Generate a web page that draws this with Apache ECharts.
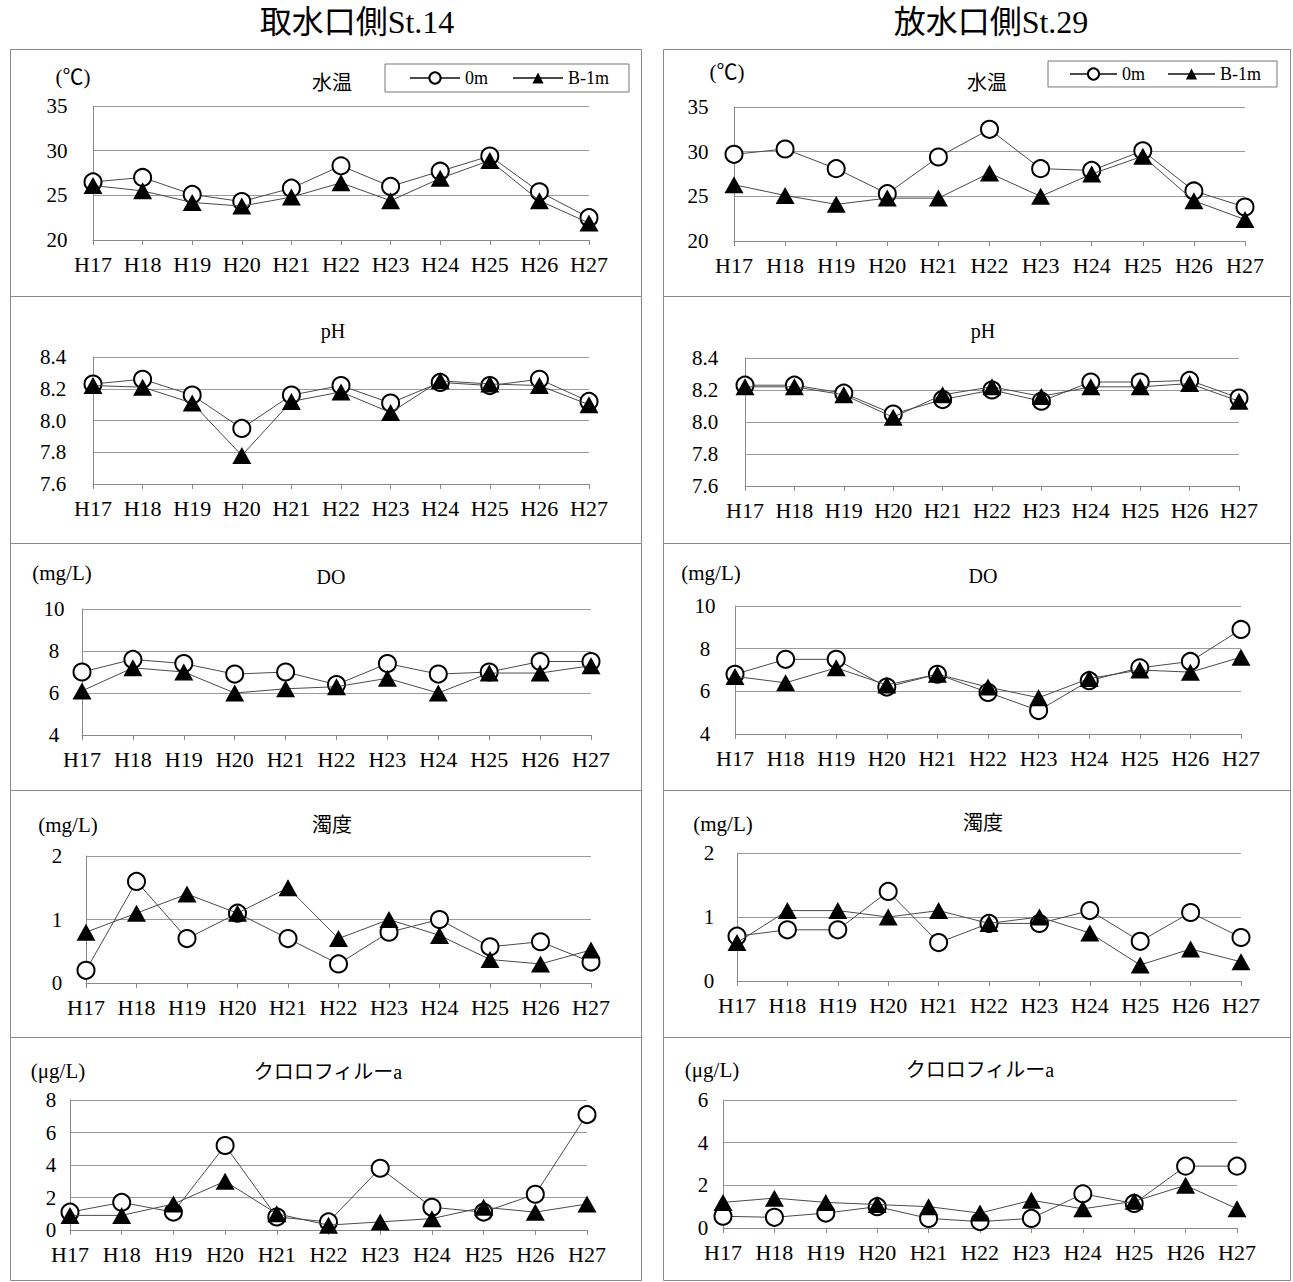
<!DOCTYPE html>
<html lang="ja">
<head>
<meta charset="utf-8">
<title>取水口側St.14・放水口側St.29 水質の経年変化</title>
<script src="https://cdn.jsdelivr.net/npm/echarts@6/dist/echarts.min.js"></script>
<style>
  html, body { margin: 0; padding: 0; background: #fff; }
  #chart { width: 1293px; height: 1282px; }
</style>
</head>
<body>
<div id="chart"></div>
<script>
// ---- data ----
const years = ['H17', 'H18', 'H19', 'H20', 'H21', 'H22', 'H23', 'H24', 'H25', 'H26', 'H27'];
const seriesNames = ['0m', 'B-1m'];
const stationTitles = ['取水口側St.14', '放水口側St.29'];
const itemTitles = ['水温', 'pH', 'DO', '濁度', 'クロロフィルーa'];
const itemUnits = ['(℃)', '', '(mg/L)', '(mg/L)', '(μg/L)'];

// 水温 (℃)
const tempSt14Surface = [26.5, 27.0, 25.1, 24.3, 25.8, 28.3, 26.0, 27.7, 29.4, 25.4, 22.5];
const tempSt14Bottom  = [26.1, 25.5, 24.2, 23.8, 24.8, 26.4, 24.4, 26.9, 28.9, 24.4, 21.9];
const tempSt29Surface = [29.7, 30.3, 28.1, 25.3, 29.4, 32.5, 28.1, 27.9, 30.1, 25.6, 23.8];
const tempSt29Bottom  = [26.3, 25.1, 24.1, 24.8, 24.8, 27.6, 25.0, 27.5, 29.5, 24.5, 22.4];
// pH
const phSt14Surface = [8.23, 8.26, 8.16, 7.95, 8.16, 8.22, 8.11, 8.24, 8.22, 8.26, 8.12];
const phSt14Bottom  = [8.22, 8.21, 8.11, 7.78, 8.12, 8.18, 8.05, 8.25, 8.23, 8.22, 8.10];
const phSt29Surface = [8.23, 8.23, 8.18, 8.05, 8.14, 8.20, 8.13, 8.25, 8.25, 8.26, 8.15];
const phSt29Bottom  = [8.22, 8.22, 8.17, 8.03, 8.17, 8.22, 8.16, 8.22, 8.22, 8.24, 8.13];
// DO (mg/L)
const doSt14Surface = [7.0, 7.6, 7.4, 6.9, 7.0, 6.4, 7.4, 6.9, 7.0, 7.5, 7.5];
const doSt14Bottom  = [6.1, 7.2, 7.0, 6.0, 6.2, 6.3, 6.7, 6.0, 6.95, 6.95, 7.3];
const doSt29Surface = [6.8, 7.5, 7.5, 6.2, 6.8, 5.95, 5.1, 6.5, 7.1, 7.4, 8.9];
const doSt29Bottom  = [6.7, 6.4, 7.1, 6.3, 6.8, 6.2, 5.7, 6.6, 7.0, 6.9, 7.6];
// 濁度 (mg/L)
const turbSt14Surface = [0.2, 1.6, 0.7, 1.1, 0.7, 0.3, 0.8, 1.0, 0.57, 0.65, 0.33];
const turbSt14Bottom  = [0.8, 1.1, 1.4, 1.1, 1.5, 0.7, 1.0, 0.75, 0.37, 0.3, 0.52];
const turbSt29Surface = [0.7, 0.8, 0.8, 1.4, 0.6, 0.9, 0.9, 1.1, 0.62, 1.07, 0.68];
const turbSt29Bottom  = [0.6, 1.1, 1.1, 1.0, 1.1, 0.9, 1.0, 0.75, 0.25, 0.5, 0.3];
// クロロフィルa (μg/L)
const chlSt14Surface = [1.1, 1.7, 1.1, 5.2, 0.8, 0.5, 3.8, 1.4, 1.1, 2.2, 7.1];
const chlSt14Bottom  = [0.9, 0.9, 1.6, 3.0, 1.0, 0.3, 0.5, 0.7, 1.4, 1.1, 1.6];
const chlSt29Surface = [0.55, 0.5, 0.7, 1.0, 0.45, 0.3, 0.45, 1.6, 1.15, 2.9, 2.9];
const chlSt29Bottom  = [1.2, 1.4, 1.2, 1.1, 1.0, 0.7, 1.3, 0.9, 1.25, 2.0, 0.9];

// y axis scales per item (St.14 / St.29)
const yMinSt14 = [20, 7.6, 4, 0, 0];
const yMaxSt14 = [35, 8.4, 10, 2, 8];
const yMinSt29 = [20, 7.6, 4, 0, 0];
const yMaxSt29 = [35, 8.4, 10, 2, 6];
const yStep    = [5, 0.2, 2, 1, 2];
const yDecimals = [0, 1, 0, 0, 0];

// ---- layout ----
const SERIF = '"Liberation Serif", "Noto Sans CJK JP", serif';

const stationData = [
  [[tempSt14Surface, tempSt14Bottom], [phSt14Surface, phSt14Bottom], [doSt14Surface, doSt14Bottom],
   [turbSt14Surface, turbSt14Bottom], [chlSt14Surface, chlSt14Bottom]],
  [[tempSt29Surface, tempSt29Bottom], [phSt29Surface, phSt29Bottom], [doSt29Surface, doSt29Bottom],
   [turbSt29Surface, turbSt29Bottom], [chlSt29Surface, chlSt29Bottom]]
];
const stationMin = [yMinSt14, yMinSt29];
const stationMax = [yMaxSt14, yMaxSt29];

// plot areas: [left, top, width, height]
const gridBoxes = [
  [[93, 106, 496, 134], [93, 357, 496, 127], [82, 609, 509, 126], [86, 856, 505, 127], [70, 1100, 517, 130]],
  [[734, 107, 511, 134], [745, 358, 494, 128], [735, 606, 506, 128], [737, 853, 504, 128], [723, 1100, 514, 128]]
];
const labelMargins = [[36, 40, 28, 29, 19], [36, 40, 30, 28, 20]];
const titlePos = [
  [[332, 83], [333, 331], [331, 577], [332, 825], [328, 1072]],
  [[987, 83], [983, 331], [983, 576], [983, 823], [980, 1070]]
];
const unitPos = [
  [[73, 77], null, [62, 573], [68, 825], [58, 1071]],
  [[727, 72], null, [711, 573], [723, 824], [712, 1070]]
];
const frameX = [[10, 641], [663, 1290]];
const frameY = [49, 296, 543, 790, 1037, 1280];
const stationTitlePos = [[357, 22], [991, 22]];

const grids = [], xAxes = [], yAxes = [], series = [], graphics = [];

stationData.forEach((items, col) => {
  graphics.push({
    type: 'text', x: stationTitlePos[col][0], y: stationTitlePos[col][1], silent: true,
    style: { text: stationTitles[col], align: 'center', verticalAlign: 'middle',
             font: '32px ' + SERIF, fill: '#000' }
  });
  items.forEach((pair, row) => {
    const idx = grids.length;
    const box = gridBoxes[col][row];
    grids.push({ left: box[0], top: box[1], width: box[2], height: box[3], containLabel: false });

    xAxes.push({
      gridIndex: idx, type: 'category', data: years, boundaryGap: false,
      axisLine: { lineStyle: { color: '#8a8a8a', width: 1 } },
      axisTick: { show: true, alignWithLabel: true, length: 5, lineStyle: { color: '#8a8a8a' } },
      axisLabel: { interval: 0, margin: 13, color: '#000', fontFamily: SERIF, fontSize: 22 },
      splitLine: { show: false }
    });

    const dec = yDecimals[row];
    yAxes.push({
      gridIndex: idx, type: 'value',
      min: stationMin[col][row], max: stationMax[col][row], interval: yStep[row],
      axisLine: { show: true, lineStyle: { color: '#8a8a8a', width: 1 } },
      axisTick: { show: false },
      splitLine: { show: true, lineStyle: { color: '#9a9a9a', width: 1 } },
      axisLabel: { margin: labelMargins[col][row], align: 'center', color: '#000',
                   fontFamily: SERIF, fontSize: 21, formatter: v => Number(v).toFixed(dec) }
    });

    series.push({
      name: seriesNames[0], type: 'line', xAxisIndex: idx, yAxisIndex: idx, data: pair[0],
      symbol: 'circle', symbolSize: 17, showAllSymbol: true,
      lineStyle: { color: '#4a4a4a', width: 1 },
      itemStyle: { color: '#fff', borderColor: '#000', borderWidth: 2 },
      emphasis: { disabled: true }, z: 2
    });
    series.push({
      name: seriesNames[1], type: 'line', xAxisIndex: idx, yAxisIndex: idx, data: pair[1],
      symbol: 'triangle', symbolSize: [19, 17], showAllSymbol: true,
      lineStyle: { color: '#4a4a4a', width: 1 },
      itemStyle: { color: '#000', borderColor: '#000', borderWidth: 0 },
      emphasis: { disabled: true }, z: 3
    });

    // panel frame
    graphics.push({
      type: 'rect', silent: true, z: -1,
      shape: { x: frameX[col][0] + 0.5, y: frameY[row] + 0.5,
               width: frameX[col][1] - frameX[col][0], height: frameY[row + 1] - frameY[row] },
      style: { fill: 'none', stroke: '#8a8a8a', lineWidth: 1 }
    });
    // item title
    graphics.push({
      type: 'text', x: titlePos[col][row][0], y: titlePos[col][row][1], silent: true,
      style: { text: itemTitles[row], align: 'center', verticalAlign: 'middle',
               font: '20px ' + SERIF, fill: '#000' }
    });
    // unit label
    if (unitPos[col][row]) {
      graphics.push({
        type: 'text', x: unitPos[col][row][0], y: unitPos[col][row][1], silent: true,
        style: { text: itemUnits[row], align: 'center', verticalAlign: 'middle',
                 font: '21px ' + SERIF, fill: '#000' }
      });
    }
  });
});

const legendCommon = {
  data: seriesNames, orient: 'horizontal', itemHeight: 14,
  borderColor: '#777', borderWidth: 1, backgroundColor: '#fff',
  textStyle: { fontFamily: SERIF, fontSize: 18, color: '#000' },
  selectedMode: false
};

const option = {
  animation: false,
  backgroundColor: '#fff',
  grid: grids,
  xAxis: xAxes,
  yAxis: yAxes,
  series: series,
  legend: [
    Object.assign({}, legendCommon, { left: 385, top: 64, padding: [5, 20, 5, 24], itemWidth: 50, itemGap: 24 }),
    Object.assign({}, legendCommon, { left: 1048, top: 61, padding: [4, 16, 4, 21], itemWidth: 47, itemGap: 22 })
  ],
  graphic: { elements: graphics }
};

const chart = echarts.init(document.getElementById('chart'), null, { renderer: 'svg' });
chart.setOption(option);
</script>
</body>
</html>
